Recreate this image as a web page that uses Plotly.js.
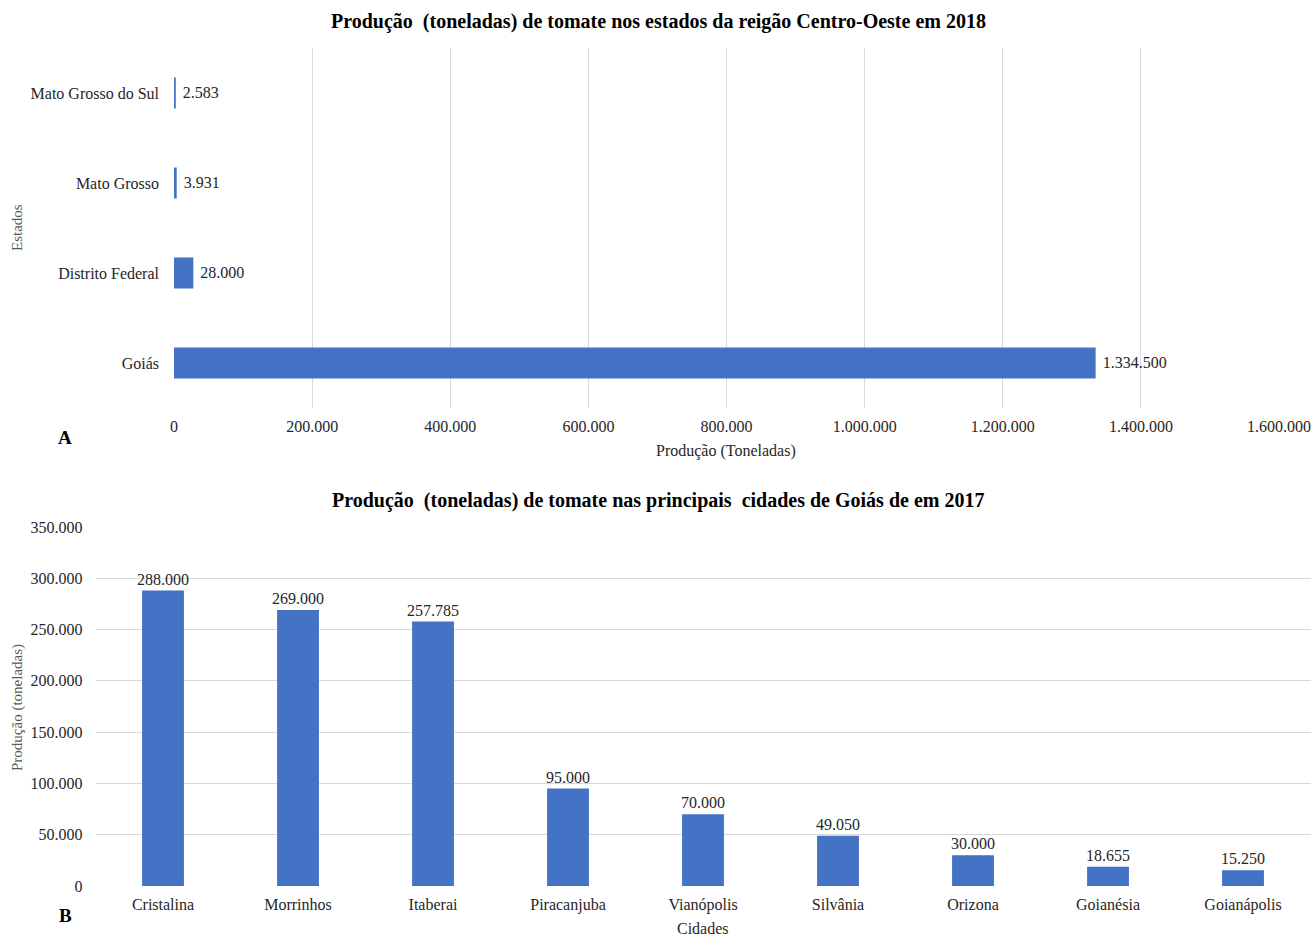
<!DOCTYPE html>
<html>
<head>
<meta charset="utf-8">
<script src="https://cdn.plot.ly/plotly-3.0.1.min.js"></script>
<style>html,body{margin:0;padding:0;background:#fff;}#chart{width:1314px;height:936px;}</style>
</head>
<body>
<div id="chart"></div>
<script>
// Top chart: states (bottom to top order)
const estados = ['Goiás', 'Distrito Federal', 'Mato Grosso', 'Mato Grosso do Sul'];
const producaoEstados = [1334500, 28000, 3931, 2583];
const xTicksTop = [0, 200000, 400000, 600000, 800000, 1000000, 1200000, 1400000, 1600000];

// Bottom chart: cities
const cidades = ['Cristalina', 'Morrinhos', 'Itaberai', 'Piracanjuba', 'Vianópolis', 'Silvânia', 'Orizona', 'Goianésia', 'Goianápolis'];
const producaoCidades = [288000, 269000, 257785, 95000, 70000, 49050, 30000, 18655, 15250];
const yTicksBottom = [0, 50000, 100000, 150000, 200000, 250000, 300000, 350000];

function fmt(v) { return String(v).replace(/\B(?=(\d{3})+(?!\d))/g, '.'); }

const FONT = 'Liberation Serif, Times New Roman, serif';
const BLUE = '#4472C4';
const GRID = '#d9d9d9';
const TXT = '#262626';

const traces = [
  {
    type: 'bar', orientation: 'h', x: producaoEstados, y: estados,
    xaxis: 'x', yaxis: 'y', marker: {color: BLUE}, width: 0.345,
    text: producaoEstados.map(v => '\u00a0' + fmt(v)), textposition: 'outside', cliponaxis: false,
    constraintext: 'none',
    textfont: {family: FONT, size: 16, color: TXT}, hoverinfo: 'none'
  },
  {
    type: 'bar', x: cidades, y: producaoCidades,
    xaxis: 'x2', yaxis: 'y2', marker: {color: BLUE}, width: 0.31,
    text: producaoCidades.map(fmt), textposition: 'outside', cliponaxis: false,
    constraintext: 'none',
    textfont: {family: FONT, size: 16, color: TXT}, hoverinfo: 'none'
  }
];

const W = 1314, H = 936;
const layout = {
  width: W, height: H,
  margin: {l: 0, r: 0, t: 0, b: 0},
  paper_bgcolor: '#fff', plot_bgcolor: '#fff',
  showlegend: false,
  font: {family: FONT, size: 16, color: TXT},
  xaxis: {
    domain: [174 / W, 1279 / W], anchor: 'y',
    range: [0, 1600000], tickvals: xTicksTop, ticktext: xTicksTop.map(fmt),
    showgrid: true, gridcolor: GRID, gridwidth: 1, zeroline: false, showline: false,
    ticks: '', ticklabelstandoff: 7, tickfont: {family: FONT, size: 16, color: TXT}
  },
  yaxis: {
    domain: [1 - 408 / H, 1 - 48 / H], anchor: 'x',
    type: 'category', showgrid: false, zeroline: false, showline: false,
    ticks: '', ticklabelstandoff: 14, tickfont: {family: FONT, size: 16, color: TXT}
  },
  xaxis2: {
    domain: [95.5 / W, 1310.5 / W], anchor: 'y2',
    type: 'category', range: [-0.5, 8.5], showgrid: false, zeroline: false, showline: false,
    ticks: '', ticklabelstandoff: 7, tickfont: {family: FONT, size: 16, color: TXT}
  },
  yaxis2: {
    domain: [1 - 886 / H, 1 - 527 / H], anchor: 'x2',
    range: [0, 350000], tickvals: yTicksBottom, ticktext: yTicksBottom.map(fmt),
    showgrid: true, gridcolor: GRID, gridwidth: 1, zeroline: false, showline: false,
    ticks: '', ticklabelstandoff: 12, tickfont: {family: FONT, size: 16, color: TXT}
  },
  annotations: [
    {text: '<b>Produção  (toneladas) de tomate nos estados da reigão Centro-Oeste em 2018</b>', xref: 'paper', yref: 'paper',
     x: 658 / W, y: 1 - 21 / H, xanchor: 'center', yanchor: 'middle', showarrow: false,
     font: {family: FONT, size: 20, color: '#000'}},
    {text: 'Produção (Toneladas)', xref: 'paper', yref: 'paper', x: 726 / W, y: 1 - 451 / H,
     xanchor: 'center', yanchor: 'middle', showarrow: false, font: {family: FONT, size: 16, color: TXT}},
    {text: 'Estados', xref: 'paper', yref: 'paper', x: 17 / W, y: 1 - 228 / H, textangle: -90,
     xanchor: 'center', yanchor: 'middle', showarrow: false, font: {family: FONT, size: 15, color: '#595959'}},
    {text: '<b>A</b>', xref: 'paper', yref: 'paper', x: 65 / W, y: 1 - 437 / H,
     xanchor: 'center', yanchor: 'middle', showarrow: false, font: {family: FONT, size: 19, color: '#000'}},
    {text: '<b>Produção  (toneladas) de tomate nas principais  cidades de Goiás de em 2017</b>', xref: 'paper', yref: 'paper',
     x: 658 / W, y: 1 - 500 / H, xanchor: 'center', yanchor: 'middle', showarrow: false,
     font: {family: FONT, size: 20, color: '#000'}},
    {text: 'Cidades', xref: 'paper', yref: 'paper', x: 703 / W, y: 1 - 928 / H,
     xanchor: 'center', yanchor: 'middle', showarrow: false, font: {family: FONT, size: 16, color: TXT}},
    {text: 'Produção (toneladas)', xref: 'paper', yref: 'paper', x: 17 / W, y: 1 - 708 / H, textangle: -90,
     xanchor: 'center', yanchor: 'middle', showarrow: false, font: {family: FONT, size: 15, color: '#595959'}},
    {text: '<b>B</b>', xref: 'paper', yref: 'paper', x: 65 / W, y: 1 - 915 / H,
     xanchor: 'center', yanchor: 'middle', showarrow: false, font: {family: FONT, size: 19, color: '#000'}}
  ]
};

Plotly.newPlot('chart', traces, layout, {displayModeBar: false, staticPlot: true});
</script>
</body>
</html>
